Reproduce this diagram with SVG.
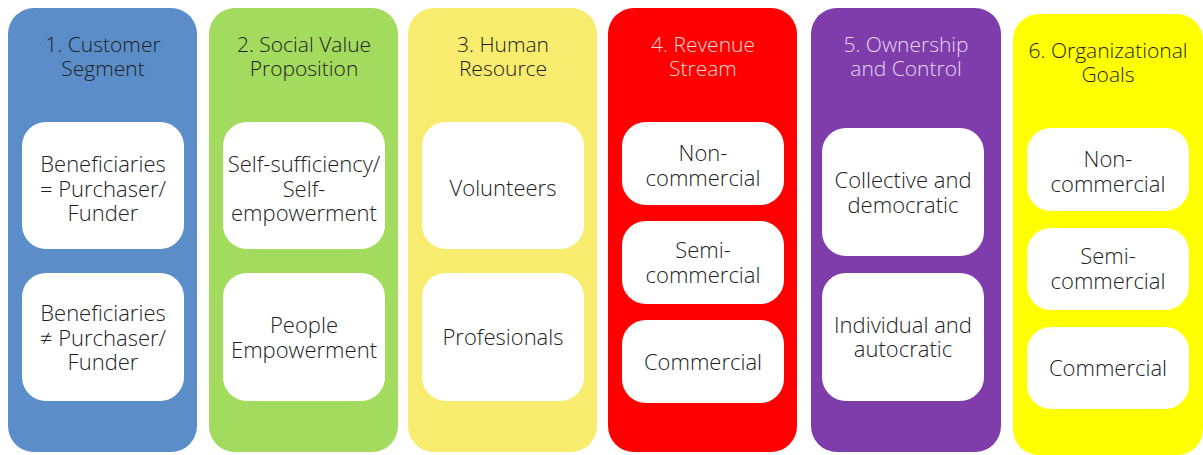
<svg xmlns="http://www.w3.org/2000/svg" width="1203" height="455" viewBox="0 0 1203 455">
<style>
.col{stroke:none}
.box{fill:#fff}
.t{font-family:"Open Sans","Liberation Sans",sans-serif;font-weight:300;font-size:21px;text-anchor:middle;fill:#1e1e1e}
.b{font-family:"Open Sans","Liberation Sans",sans-serif;font-weight:300;font-size:22px;text-anchor:middle;fill:#222}
</style>
<rect width="1203" height="455" fill="#fff"/>
<g id="col1">
<rect class="col" x="8" y="8" width="189" height="444" rx="26" fill="#5B8DC8"/>
<text class="t" x="103" y="52">1. Customer</text>
<text class="t" x="103" y="76">Segment</text>
<g id="col1-box1"><rect class="box" x="22" y="122" width="162" height="127" rx="24"/>
<text class="b" x="103" y="172">Beneficiaries</text><text class="b" x="103" y="197">= Purchaser/</text><text class="b" x="103" y="221">Funder</text></g>
<g id="col1-box2"><rect class="box" x="22" y="273" width="162" height="128" rx="24"/>
<text class="b" x="103" y="321">Beneficiaries</text><text class="b" x="103" y="346">≠ Purchaser/</text><text class="b" x="103" y="370">Funder</text></g>
</g>
<g id="col2">
<rect class="col" x="209" y="8" width="189" height="444" rx="26" fill="#A2DB5E"/>
<text class="t" x="304" y="52">2. Social Value</text>
<text class="t" x="304" y="76">Proposition</text>
<g id="col2-box1"><rect class="box" x="223" y="122" width="162" height="127" rx="24"/>
<text class="b" x="304" y="172">Self-sufficiency/</text><text class="b" x="304" y="197">Self-</text><text class="b" x="304" y="221">empowerment</text></g>
<g id="col2-box2"><rect class="box" x="223" y="273" width="162" height="128" rx="24"/>
<text class="b" x="304" y="333">People</text><text class="b" x="304" y="358">Empowerment</text></g>
</g>
<g id="col3">
<rect class="col" x="408" y="8" width="189" height="444" rx="26" fill="#F8EC6E"/>
<text class="t" x="503" y="52">3. Human</text>
<text class="t" x="503" y="76">Resource</text>
<g id="col3-box1"><rect class="box" x="422" y="122" width="162" height="127" rx="24"/>
<text class="b" x="503" y="196">Volunteers</text></g>
<g id="col3-box2"><rect class="box" x="422" y="273" width="162" height="128" rx="24"/>
<text class="b" x="503" y="345">Profesionals</text></g>
</g>
<g id="col4">
<rect class="col" x="608" y="8" width="189" height="444" rx="26" fill="#FF0000"/>
<text class="t" x="703" y="52" style="fill:#FCD6D6">4. Revenue</text>
<text class="t" x="703" y="76" style="fill:#FCD6D6">Stream</text>
<g id="col4-box1"><rect class="box" x="622" y="122" width="162" height="83" rx="24"/>
<text class="b" x="703" y="161">Non-</text><text class="b" x="703" y="186">commercial</text></g>
<g id="col4-box2"><rect class="box" x="622" y="221" width="162" height="83" rx="24"/>
<text class="b" x="703" y="258">Semi-</text><text class="b" x="703" y="283">commercial</text></g>
<g id="col4-box3"><rect class="box" x="622" y="320" width="162" height="83" rx="24"/>
<text class="b" x="703" y="370">Commercial</text></g>
</g>
<g id="col5">
<rect class="col" x="811" y="8" width="190" height="444" rx="26" fill="#7E3DAB"/>
<text class="t" x="906" y="52" style="fill:#E6D6F0">5. Ownership</text>
<text class="t" x="906" y="76" style="fill:#E6D6F0">and Control</text>
<g id="col5-box1"><rect class="box" x="822" y="128" width="162" height="128" rx="24"/>
<text class="b" x="903" y="188">Collective and</text><text class="b" x="903" y="213">democratic</text></g>
<g id="col5-box2"><rect class="box" x="822" y="273" width="162" height="128" rx="24"/>
<text class="b" x="903" y="333">Individual and</text><text class="b" x="903" y="357">autocratic</text></g>
</g>
<g id="col6">
<rect class="col" x="1013" y="14" width="190" height="441" rx="26" fill="#FFFF00"/>
<text class="t" x="1108" y="58">6. Organizational</text>
<text class="t" x="1108" y="82">Goals</text>
<g id="col6-box1"><rect class="box" x="1027" y="128" width="162" height="83" rx="24"/>
<text class="b" x="1108" y="167">Non-</text><text class="b" x="1108" y="192">commercial</text></g>
<g id="col6-box2"><rect class="box" x="1027" y="228" width="162" height="82" rx="24"/>
<text class="b" x="1108" y="264">Semi-</text><text class="b" x="1108" y="289">commercial</text></g>
<g id="col6-box3"><rect class="box" x="1027" y="327" width="162" height="82" rx="24"/>
<text class="b" x="1108" y="376">Commercial</text></g>
</g>
<g id="connectors"></g>
</svg>
